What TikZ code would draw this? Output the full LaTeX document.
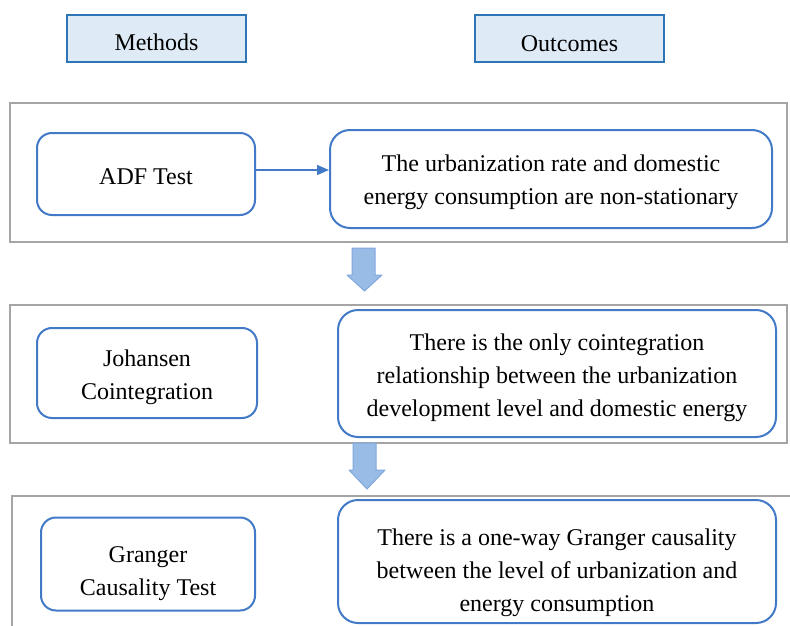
\documentclass[tikz,border=0pt]{standalone}
\usepackage{fontspec}
\setmainfont{LiberationSerif}[Extension=.ttf,UprightFont=*-Regular,BoldFont=*-Bold]
\usetikzlibrary{arrows.meta}
\definecolor{boxblue}{RGB}{66,122,200}
\definecolor{headblue}{RGB}{222,235,247}
\definecolor{headline}{RGB}{46,117,182}
\definecolor{panelgray}{RGB}{165,165,165}
\definecolor{arrowblue}{RGB}{152,188,230}
\definecolor{arrowline}{RGB}{128,168,220}
\begin{document}
\begin{tikzpicture}[x=1pt,y=-1pt,
    font=\fontsize{24}{33}\selectfont,
    txt/.style={align=center,inner sep=0pt},
    header/.style={draw=headline,line width=2.5pt,fill=headblue,minimum height=47pt,inner sep=0pt},
    method/.style={draw=boxblue,line width=2pt,rounded corners=15pt,inner sep=0pt},
    outcome/.style={draw=boxblue,line width=2pt,rounded corners=20pt,inner sep=0pt},
    panel/.style={draw=panelgray,line width=2pt},
    flow/.style={draw=boxblue,line width=1.5pt,-{Triangle[length=12pt,width=10pt]}},
    bigarrow/.style={fill=arrowblue,draw=arrowline,line width=1pt,line join=round}]
  \clip (0,0) rectangle (790,626);
  % headers
  \node[header,minimum width=179pt,label={[txt,yshift=-4pt]center:Methods}] (methods) at (156.5,38.5) {};
  \node[header,minimum width=189pt,label={[txt,yshift=-5pt]center:Outcomes}] (outcomes) at (569.5,38.5) {};
  % panels
  \draw[panel] (10,103) rectangle (787,242);
  \draw[panel] (10,305) rectangle (787,443);
  \draw[panel] (12,496) rectangle (792,640);
  % first row
  \node[method,minimum width=218pt,minimum height=82pt,
    label={[txt,yshift=-3pt]center:ADF Test}] (adf) at (146,174) {};
  \node[outcome,minimum width=442pt,minimum height=98pt,
    label={[txt,yshift=-3pt]center:{The urbanization rate and domestic\\energy consumption are non-stationary}}] (out1) at (551,179) {};
  \draw[flow] ([yshift=4pt]adf.east) -- ([yshift=4pt]adf.east -| out1.west);
  % second row
  \node[method,minimum width=220pt,minimum height=90pt,
    label={[txt,yshift=-4pt]center:{Johansen\\Cointegration}}] (johansen) at (147,373) {};
  \node[outcome,minimum width=438pt,minimum height=127pt,
    label={[txt,yshift=-4pt]center:{There is the only cointegration\\relationship between the urbanization\\development level and domestic energy}}] (out2) at (557,373.5) {};
  % third row
  \node[method,minimum width=214pt,minimum height=93pt,
    label={[txt,yshift=-10pt]center:{Granger\\Causality Test}}] (granger) at (148,564) {};
  \node[outcome,minimum width=438pt,minimum height=123pt,
    label={[txt,yshift=-11pt]center:{There is a one-way Granger causality\\between the level of urbanization and\\energy consumption}}] (out3) at (557,561.5) {};
  % block arrows
  \draw[bigarrow] (352,248) -- (375,248) -- (375,275) -- (382,275) -- (364.5,291)
    -- (347,275) -- (352,275) -- cycle;
  \draw[bigarrow] (353,443) -- (376,443) -- (376,470) -- (385,470) -- (367,489)
    -- (349,470) -- (353,470) -- cycle;
\end{tikzpicture}
\end{document}
